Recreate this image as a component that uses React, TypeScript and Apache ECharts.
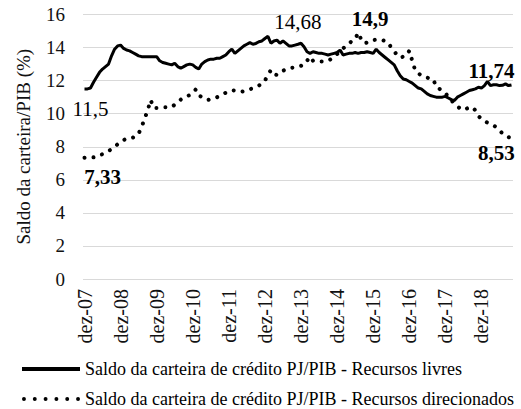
import React, { useEffect, useRef } from "react";
import * as echarts from "echarts";

const monthNames = ["jan", "fev", "mar", "abr", "mai", "jun", "jul", "ago", "set", "out", "nov", "dez"];
const startYear = 2007;
const startMonth = 11; // dez

const livres = [
  11.5, 11.5, 11.55, 11.9, 12.2, 12.5, 12.7, 12.85, 13.0, 13.5, 13.9, 14.1, 14.15, 13.95, 13.85, 13.8,
  13.7, 13.6, 13.5, 13.45, 13.45, 13.45, 13.45, 13.45, 13.45, 13.2, 13.1, 13.05, 13.0, 12.95, 13.05, 12.85,
  12.75, 12.85, 12.95, 13.0, 12.95, 12.8, 12.7, 13.0, 13.15, 13.25, 13.3, 13.3, 13.35, 13.35, 13.45, 13.55,
  13.75, 13.9, 13.65, 13.8, 13.95, 14.1, 14.2, 14.3, 14.2, 14.25, 14.35, 14.4, 14.55, 14.68, 14.26, 14.4,
  14.45, 14.26, 14.4, 14.25, 14.1, 14.1, 14.15, 14.2, 14.26, 14.05, 13.75, 13.65, 13.75, 13.7, 13.65, 13.65,
  13.6, 13.55, 13.6, 13.65, 13.7, 13.85, 13.55, 13.6, 13.65, 13.65, 13.7, 13.65, 13.7, 13.7, 13.75, 13.7,
  13.65, 13.9, 13.7, 13.55, 13.4, 13.25, 13.1, 12.95, 12.6, 12.3, 12.1, 12.05, 11.95, 11.85, 11.7, 11.55,
  11.5, 11.35, 11.2, 11.1, 11.05, 11.0, 11.0, 11.0, 11.05, 10.95, 10.85, 10.8, 11.0, 11.1, 11.2, 11.3,
  11.4, 11.45, 11.5, 11.6, 11.55, 11.7, 11.95, 11.7, 11.75, 11.75, 11.7, 11.72, 11.8, 11.7, 11.74,
];

const direcionados = [
  7.33, 7.35, 7.35, 7.36, 7.4, 7.5, 7.55, 7.65, 7.75, 7.85, 8.0, 8.15, 8.3, 8.4, 8.5, 8.52,
  8.55, 8.6, 8.8, 9.2, 9.7, 10.2, 10.83, 10.35, 10.35, 10.37, 10.39, 10.39, 10.4, 10.4, 10.55, 10.7,
  10.85, 10.95, 11.05, 11.13, 11.25, 11.47, 11.13, 11.0, 10.9, 10.83, 10.88, 10.93, 10.99, 11.08, 11.18, 11.27,
  11.35, 11.42, 11.4, 11.35, 11.33, 11.35, 11.4, 11.48, 11.54, 11.6, 11.7, 11.8, 12.0, 12.34, 12.64, 12.4,
  12.34, 12.45, 12.6, 12.68, 12.72, 12.78, 12.8, 12.85, 12.9, 12.95, 13.2, 13.45, 13.2, 13.15, 13.15, 13.15,
  13.15, 13.2, 13.3, 13.45, 13.6, 13.8, 13.95, 14.1, 14.26, 14.4, 14.5, 14.9, 14.5, 14.26, 14.3, 14.42,
  14.45, 14.48, 14.5, 14.45, 14.4, 14.3, 14.0, 13.8, 13.5, 13.4, 13.45, 13.5, 13.8, 13.2, 12.6, 12.45,
  12.3, 12.24, 12.18, 12.12, 12.08, 11.6, 11.5, 11.4, 11.27, 11.0, 10.8, 10.63, 10.45, 10.3, 10.22, 10.3,
  10.39, 10.39, 10.2, 9.85, 9.7, 9.55, 9.46, 9.38, 9.28, 9.18, 9.0, 8.8, 8.65, 8.58, 8.53,
];

const categories = livres.map((_, k) => {
  const m = (startMonth + k) % 12;
  const y = startYear + Math.floor((startMonth + k) / 12);
  return `${monthNames[m]}-${String(y % 100).padStart(2, "0")}`;
});

const seriesNames = [
  "Saldo da carteira de crédito PJ/PIB - Recursos livres",
  "Saldo da carteira de crédito PJ/PIB - Recursos direcionados",
];
const yAxisName = "Saldo da carteira/PIB (%)";

const FONT = "Liberation Serif";

const fmt = (v: number) => String(v).replace(".", ",");

type Ann = { idx: number; pos: "top" | "bottom"; offset: [number, number]; bold: boolean };
const livresAnn: Ann[] = [
  { idx: 0, pos: "bottom", offset: [6, 5], bold: false },
  { idx: 61, pos: "top", offset: [30, 1], bold: false },
  { idx: livres.length - 1, pos: "top", offset: [-20, 2], bold: true },
];
const direcAnn: Ann[] = [
  { idx: 0, pos: "bottom", offset: [18, 4], bold: true },
  { idx: 91, pos: "top", offset: [12, 2], bold: true },
  { idx: direcionados.length - 1, pos: "bottom", offset: [-15, 0], bold: true },
];

function withLabels(values: number[], anns: Ann[]) {
  return values.map((v, i) => {
    const a = anns.find((x) => x.idx === i);
    if (!a) return v;
    return {
      value: v,
      label: {
        show: true,
        position: a.pos,
        offset: a.offset,
        formatter: fmt(v),
        fontFamily: FONT,
        fontSize: 21,
        fontWeight: a.bold ? "bold" : "normal",
        color: "#000",
      },
    };
  });
}

const dotIcon =
  "path://" +
  [0, 1, 2, 3, 4, 5]
    .map((k) => {
      const cx = 2 + k * 11;
      return `M${cx - 2},2a2,2 0 1,0 4,0a2,2 0 1,0 -4,0Z`;
    })
    .join("");

const baseText = { fontFamily: FONT, fontWeight: "normal", fontStyle: "normal", color: "#111" };

export default function App() {
  const ref = useRef<HTMLDivElement>(null);
  useEffect(() => {
    if (!ref.current) return;
    const chart = echarts.init(ref.current, undefined, { renderer: "svg" });
    chart.setOption({
      animation: false,
      backgroundColor: "#fff",
      textStyle: { fontFamily: FONT, fontWeight: "normal" },
      grid: { left: 83, right: 8, top: 14.5, bottom: 130, containLabel: false },
      legend: [
        {
          data: [{ name: seriesNames[0], icon: "rect" }],
          left: 22,
          top: 360,
          padding: 0,
          itemWidth: 58,
          itemHeight: 4,
          textStyle: { ...baseText, fontSize: 18, color: "#000" },
          selectedMode: false,
        },
        {
          data: [{ name: seriesNames[1], icon: dotIcon }],
          left: 22,
          top: 390,
          padding: 0,
          itemWidth: 58,
          itemHeight: 4,
          textStyle: { ...baseText, fontSize: 18, color: "#000" },
          selectedMode: false,
        },
      ],
      xAxis: {
        type: "category",
        data: categories,
        boundaryGap: true,
        axisLine: { show: false },
        axisTick: { show: false },
        axisLabel: {
          ...baseText,
          interval: 11,
          rotate: 90,
          margin: 10,
          fontSize: 20,
        },
      },
      yAxis: {
        type: "value",
        min: 0,
        max: 16,
        interval: 2,
        name: yAxisName,
        nameLocation: "middle",
        nameRotate: 90,
        nameGap: 50,
        nameTextStyle: { ...baseText, fontSize: 19 },
        axisLine: { show: false },
        axisTick: { show: false },
        axisLabel: { ...baseText, margin: 18, fontSize: 19 },
        splitLine: { lineStyle: { color: "#d9d9d9", width: 1 } },
      },
      series: [
        {
          name: seriesNames[0],
          type: "line",
          data: withLabels(livres, livresAnn),
          symbol: "circle",
          symbolSize: 0,
          showSymbol: true,
          showAllSymbol: true,
          itemStyle: { color: "#000" },
          lineStyle: { color: "#000", width: 3 },
          z: 3,
        },
        {
          name: seriesNames[1],
          type: "line",
          data: withLabels(direcionados, direcAnn),
          symbol: "circle",
          symbolSize: 0,
          showSymbol: true,
          showAllSymbol: true,
          itemStyle: { color: "#000" },
          lineStyle: { color: "#000", width: 4, type: [0.01, 9], cap: "round" },
          z: 2,
        },
      ],
    });
    return () => chart.dispose();
  }, []);
  return (
    <div
      ref={ref}
      style={{ position: "fixed", left: 0, top: 0, width: 521, height: 409, background: "#fff" }}
    />
  );
}
